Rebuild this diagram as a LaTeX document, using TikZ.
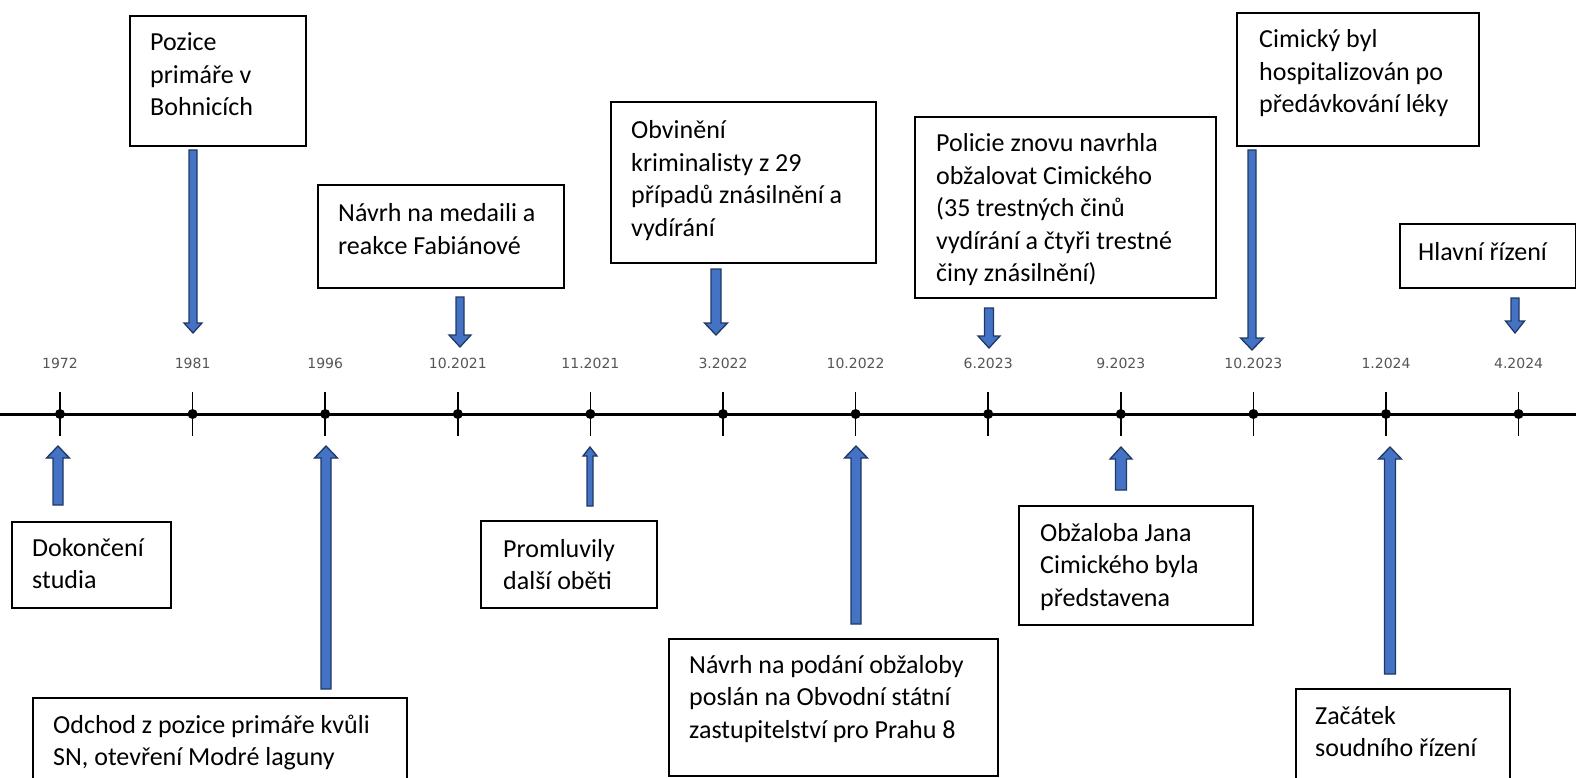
\documentclass[tikz,border=0pt]{standalone}
\usepackage{fontspec}
\setmainfont{Carlito}
\newfontfamily\dejavu{DejaVu Sans}
\usetikzlibrary{calc}
\definecolor{arrfill}{HTML}{4472C4}
\definecolor{arrline}{HTML}{1F3864}
\definecolor{lblgray}{HTML}{555555}
\newcommand\evlines[1]{\begin{tabular}[t]{@{}l@{}}#1\end{tabular}}
% #1 tail coordinate, #2 tip coordinate, #3 shaft width, #4 head width, #5 head length
\newcommand\blockarrow[5]{%
  \draw[blockarr] let \p1=(#1), \p2=(#2), \n1={sign(\y2-\y1)*#5} in
    ({\x2-0.5*#3pt},\y1) -- ({\x2-0.5*#3pt},{\y2-\n1*1pt}) -- ({\x2-0.5*#4pt},{\y2-\n1*1pt})
    -- (\x2,\y2) -- ({\x2+0.5*#4pt},{\y2-\n1*1pt}) -- ({\x2+0.5*#3pt},{\y2-\n1*1pt})
    -- ({\x2+0.5*#3pt},\y1) -- cycle;}
\begin{document}
\begin{tikzpicture}[x=1pt,y=-1pt,
  evbox/.style={draw=black, line width=1.6pt, inner sep=0pt, fill=white, anchor=north west},
  evtxt/.style={inner sep=0pt, anchor=base west, font=\fontsize{26}{32.5}\selectfont},
  blockarr/.style={fill=arrfill, draw=arrline, line width=1.3pt, line join=miter},
  ticklbl/.style={font=\dejavu\fontsize{14}{16}\selectfont, text=lblgray, inner sep=0pt},
  axisline/.style={line width=3pt, black},
  tickline/.style={line width=1.5pt, black}]
\useasboundingbox (0,0) rectangle (1576,778);

% axis
\coordinate (axL) at (-5,414);
\coordinate (axR) at (1581,414);
\draw[axisline] (axL) -- (axR);
\foreach \lbl [count=\i from 0] in {1972,1981,1996,10.2021,11.2021,3.2022,10.2022,6.2023,9.2023,10.2023,1.2024,4.2024}{
  \coordinate (t\i) at ({60+132.6*\i},414);
  \node[ticklbl] (l\i) at ({60+132.6*\i},363) {\lbl};
  \draw[tickline] ($(t\i)+(0,-22)$) -- ($(t\i)+(0,22)$);
  \fill (t\i) circle (5pt);
}

% boxes
\node[evbox, minimum width=159, minimum height=86] (bA) at (11,521) {};
\node[evtxt] (tA) at (32,556) {\evlines{Dokončení\\studia}};

\node[evbox, minimum width=176, minimum height=130] (bB) at (129,15) {};
\node[evtxt] (tB) at (150,51) {\evlines{Pozice\\primáře v\\Bohnicích}};

\node[evbox, minimum width=374, minimum height=100] (bC) at (32,697) {};
\node[evtxt] (tC) at (53,733) {\evlines{Odchod z pozice primáře kvůli\\SN, otevření Modré laguny}};

\node[evbox, minimum width=246, minimum height=103] (bD) at (317,184) {};
\node[evtxt] (tD) at (338,222) {\evlines{Návrh na medaili a\\reakce Fabiánové}};

\node[evbox, minimum width=176, minimum height=87] (bE) at (480,520) {};
\node[evtxt] (tE) at (503,557) {\evlines{Promluvily\\další oběti}};

\node[evbox, minimum width=265, minimum height=161] (bF) at (610,101) {};
\node[evtxt] (tF) at (631,139) {\evlines{Obvinění\\kriminalisty z 29\\případů znásilnění a\\vydírání}};

\node[evbox, minimum width=329, minimum height=137] (bG) at (668,638) {};
\node[evtxt] (tG) at (689,673) {\evlines{Návrh na podání obžaloby\\poslán na Obvodní státní\\zastupitelství pro Prahu 8}};

\node[evbox, minimum width=301, minimum height=181] (bH) at (914,116) {};
\node[evtxt] (tH) at (936,152) {\evlines{Policie znovu navrhla\\obžalovat Cimického\\(35 trestných činů\\vydírání a čtyři trestné\\činy znásilnění)}};

\node[evbox, minimum width=234, minimum height=119] (bI) at (1018,505) {};
\node[evtxt] (tI) at (1040,541) {\evlines{Obžaloba Jana\\Cimického byla\\představena}};

\node[evbox, minimum width=242, minimum height=133] (bJ) at (1236,12) {};
\node[evtxt] (tJ) at (1259,48) {\evlines{Cimický byl\\hospitalizován po\\předávkování léky}};

\node[evbox, minimum width=176, minimum height=64] (bK) at (1399,223) {};
\node[evtxt] (tK) at (1418,260) {\evlines{Hlavní řízení}};

\node[evbox, minimum width=214, minimum height=100] (bL) at (1295,688) {};
\node[evtxt] (tL) at (1315,724) {\evlines{Začátek\\soudního řízení}};

% arrow end points
\coordinate (aA1) at (58,505);   \coordinate (aA2) at (58,446);
\coordinate (aB1) at (193,150);  \coordinate (aB2) at (193,333);
\coordinate (aC1) at (326,689);  \coordinate (aC2) at (326,446);
\coordinate (aD1) at (460,297);  \coordinate (aD2) at (460,347);
\coordinate (aE1) at (590,506);  \coordinate (aE2) at (590,447);
\coordinate (aF1) at (716,269);  \coordinate (aF2) at (716,335);
\coordinate (aG1) at (856,624);  \coordinate (aG2) at (856,446);
\coordinate (aH1) at (989,308);  \coordinate (aH2) at (989,348);
\coordinate (aI1) at (1121,490); \coordinate (aI2) at (1121,447);
\coordinate (aJ1) at (1252,150); \coordinate (aJ2) at (1252,350);
\coordinate (aK1) at (1515,298); \coordinate (aK2) at (1515,333);
\coordinate (aL1) at (1390,674); \coordinate (aL2) at (1390,447);

\blockarrow{aA1}{aA2}{10}{23}{12}
\blockarrow{aB1}{aB2}{8}{18}{10}
\blockarrow{aC1}{aC2}{10}{23}{12}
\blockarrow{aD1}{aD2}{8}{22}{12}
\blockarrow{aE1}{aE2}{6}{14}{9}
\blockarrow{aF1}{aF2}{10}{23}{12}
\blockarrow{aG1}{aG2}{10}{23}{12}
\blockarrow{aH1}{aH2}{9}{22}{12}
\blockarrow{aI1}{aI2}{11}{22}{12}
\blockarrow{aJ1}{aJ2}{8}{23}{12}
\blockarrow{aK1}{aK2}{8}{19}{12}
\blockarrow{aL1}{aL2}{11}{23}{12}
\end{tikzpicture}
\end{document}
